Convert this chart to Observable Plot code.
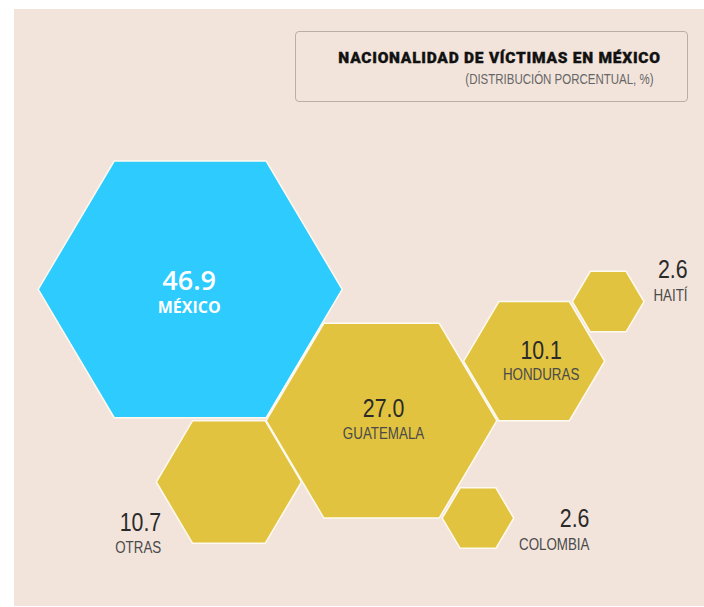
<!DOCTYPE html>
<html>
<head>
<meta charset="utf-8">
<script src="https://cdn.jsdelivr.net/npm/d3@7"></script>
<script src="https://cdn.jsdelivr.net/npm/@observablehq/plot@0.6"></script>
<style>
  html, body { margin: 0; padding: 0; background: #ffffff; }
  #wrap { position: relative; width: 704px; height: 607px; overflow: hidden; background: #ffffff; }
  #panel { position: absolute; left: 14px; top: 9px; width: 690px; height: 597px; background: #f2e4db; }
  #titlebox { position: absolute; left: 295px; top: 31px; width: 393px; height: 71px; box-sizing: border-box;
              border: 1px solid #b9aea6; border-radius: 4px; }
  #title { position: absolute; right: 43.3px; top: 51px; white-space: nowrap; line-height: 1;
           font-family: Roboto, "Open Sans", sans-serif; font-weight: 900; font-size: 15.5px; letter-spacing: 0.75px;
           color: #111; -webkit-text-stroke: 0.35px #111; }
  #subtitle { position: absolute; right: 50.7px; top: 72px; white-space: nowrap; line-height: 1;
              font-family: "Liberation Sans", Arial, sans-serif; font-size: 14px; color: #666;
              transform: scaleX(0.82); transform-origin: right center; }
  #chart { position: absolute; left: 0; top: 0; }
  #chart svg { background: transparent; }
</style>
</head>
<body>
<div id="wrap">
  <div id="panel"></div>
  <div id="titlebox"></div>
  <div id="title">NACIONALIDAD DE VÍCTIMAS EN MÉXICO</div>
  <div id="subtitle">(DISTRIBUCIÓN PORCENTUAL, %)</div>
  <div id="chart"></div>
</div>
<script>
// ---- data ----
const paises = ["MÉXICO", "GUATEMALA", "HONDURAS", "OTRAS", "COLOMBIA", "HAITÍ"];
const porcentajes = [46.9, 27.0, 10.1, 10.7, 2.6, 2.6];
const etiquetasValor = ["46.9", "27.0", "10.1", "10.7", "2.6", "2.6"];

// ---- layout: each hexagon leans on a previous one, vertex against vertex ----
// vertex k sits at angle 60*k degrees (0 = right, 1 = bottom-right, ... 5 = top-right)
const apoyo        = [null, 0, 1, 0, 1, 2];
const verticePadre = [null, 1, 0, 1, 1, 5];
const verticeHijo  = [null, 3, 2, 5, 3, 3];
const huecoX       = [0, 0, 2, -1, 3, 3];
const huecoY       = [0, 3, 0, 3, 0, 0];
const aplastado = 0.975; // vertical squash of the hexagons
// label placement relative to each hexagon centre
const etiquetaDx     = [-1, 2, 7, -67.7, 111.5, 79.4];
const etiquetaDyNum  = [0.5, -4.1, -2.3, 49.3, 9.2, -23.1];
const etiquetaDyName = [23.5, 18.2, 18.7, 71.3, 31.5, -0.4];
const etiquetaAnchor = ["middle", "middle", "middle", "end", "end", "end"];

const rOpts = {type: "sqrt", domain: [0, 46.9], range: [0, 152]};
const rScale = Plot.scale({r: rOpts});
const R = porcentajes.map(v => rScale.apply(v));
const vert = (k, r) => [r * Math.cos(k * Math.PI / 3), r * Math.sin(k * Math.PI / 3) * aplastado];

const cx = [0], cy = [0];
for (let i = 1; i < paises.length; i++) {
  const p = apoyo[i];
  const pv = vert(verticePadre[i], R[p]);
  const cv = vert(verticeHijo[i], R[i]);
  cx.push(cx[p] + pv[0] - cv[0] + huecoX[i]);
  cy.push(cy[p] + pv[1] - cv[1] + huecoY[i]);
}
const minX = d3.min(cx.map((x, i) => x - R[i]));
const minY = d3.min(cy.map((y, i) => y - R[i] * Math.sqrt(3) / 2 * aplastado));
const origenX = 37.7, origenY = 160.5;

const datos = paises.map((pais, i) => {
  const x = cx[i] - minX + origenX, y = cy[i] - minY + origenY;
  return {
    pais,
    valor: porcentajes[i],
    etiqueta: etiquetasValor[i],
    x, y,
    anchor: etiquetaAnchor[i],
    lx: x + etiquetaDx[i],
    lyNum: y + etiquetaDyNum[i],
    lyName: y + etiquetaDyName[i],
    principal: i === 0
  };
});

// flat-topped hexagon symbol, circumradius = r
const hexPlano = {
  draw(context, size) {
    const r = Math.sqrt(size / Math.PI);
    for (let k = 0; k < 6; k++) {
      const [px, py] = vert(k, r);
      if (k === 0) context.moveTo(px, py); else context.lineTo(px, py);
    }
    context.closePath();
  }
};

const AZUL = "#2dcbfe", ORO = "#e1c33f";
const narrow = "'Liberation Sans', Arial, sans-serif";
const principal = datos.filter(d => d.principal);
const resto = datos.filter(d => !d.principal);

const chart = Plot.plot({
  width: 704,
  height: 607,
  margin: 0,
  style: {background: "transparent"},
  x: {type: "linear", domain: [0, 704], range: [0, 704], axis: null},
  y: {type: "linear", domain: [0, 607], range: [0, 607], axis: null},
  r: rOpts,
  marks: [
    Plot.dot(datos, {
      x: "x", y: "y", r: "valor", symbol: hexPlano,
      fill: d => d.principal ? AZUL : ORO,
      stroke: "#fffaf0", strokeWidth: 1.5
    }),
    // México
    Plot.text(principal, {x: "lx", y: "lyNum", text: "etiqueta", textAnchor: "middle", lineAnchor: "bottom",
      fill: "white", fontFamily: "'Open Sans', sans-serif", fontWeight: 600, fontSize: 27}),
    Plot.text(principal, {x: "lx", y: "lyName", text: "pais", textAnchor: "middle", lineAnchor: "bottom",
      fill: "white", fontFamily: "'Open Sans', sans-serif", fontWeight: 700, fontSize: 16}),
    // others (centred and outside labels)
    ...["middle", "end"].flatMap(anchor => {
      const sub = resto.filter(d => d.anchor === anchor);
      return [
        Plot.text(sub, {x: "lx", y: "lyNum", text: "etiqueta", textAnchor: anchor, lineAnchor: "bottom",
          fill: "#2a2a2a", fontFamily: narrow, fontSize: 26}),
        Plot.text(sub, {x: "lx", y: "lyName", text: "pais", textAnchor: anchor, lineAnchor: "bottom",
          fill: "#4a4a4a", fontFamily: narrow, fontSize: 16.3})
      ];
    })
  ]
});
document.getElementById("chart").appendChild(chart);
// condense the labels set in Liberation Sans (narrow look)
chart.querySelectorAll('g[font-family*="Liberation"] text').forEach(t => {
  const L = t.getComputedTextLength();
  t.setAttribute("textLength", (L * 0.82).toFixed(2));
  t.setAttribute("lengthAdjust", "spacingAndGlyphs");
});
</script>
</body>
</html>
